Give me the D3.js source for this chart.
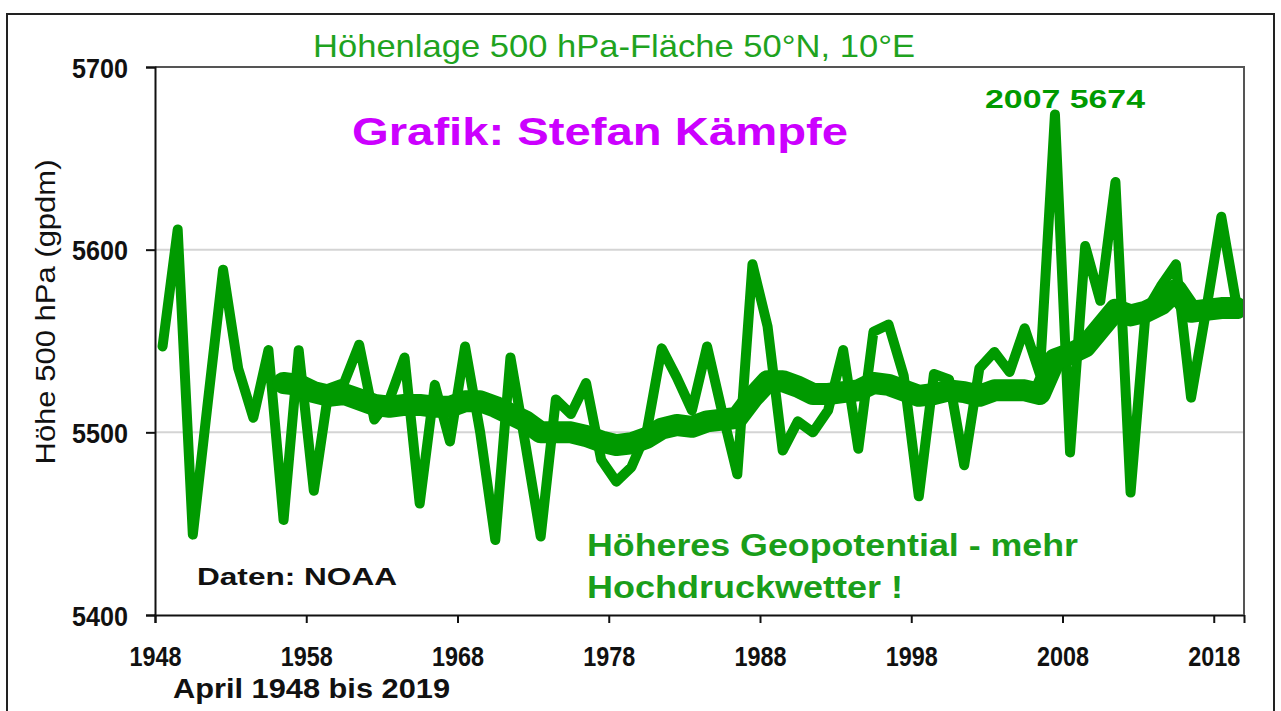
<!DOCTYPE html>
<html>
<head>
<meta charset="utf-8">
<script src="https://cdn.jsdelivr.net/npm/d3@7"></script>
<style>
  body { margin: 0; background: #fff; }
  text { font-family: "Liberation Sans", Arial, sans-serif; }
</style>
</head>
<body>
<div id="chart"></div>
<script>
const WIDTH = 1281, HEIGHT = 711;
const margin = {top: 67, right: 37, bottom: 96, left: 155};

// yearly values, April 1948 .. 2019
const years = d3.range(1948, 2020);
const heights = [
  5547, 5611, 5444, 5517, 5589, 5535, 5508, 5545, 5452, 5545,
  5468, 5524, 5527, 5548, 5507, 5518, 5541, 5461, 5526, 5495,
  5547, 5500, 5441, 5541, 5493, 5443, 5518, 5510, 5527, 5485,
  5473, 5481, 5500, 5546, 5530, 5512, 5547, 5511, 5477, 5592,
  5558, 5490, 5506, 5500, 5512, 5545, 5491, 5555, 5559, 5531,
  5465, 5532, 5529, 5482, 5535, 5544, 5533, 5557, 5532, 5674,
  5489, 5602, 5572, 5637, 5467, 5566, 5580, 5592, 5519, 5567,
  5618, 5570
];
// smoothed curve, from 1956
const smoothYears = d3.range(1956, 2020);
const smooth = [
  5527, 5526, 5522, 5520, 5521, 5518, 5515, 5514, 5515, 5515,
  5514, 5514, 5517, 5517, 5514, 5510, 5506, 5500, 5500, 5500,
  5498, 5495, 5493, 5494, 5497, 5502, 5504, 5503, 5506, 5507,
  5508, 5519, 5528, 5528, 5525, 5521, 5521, 5522, 5523, 5527,
  5526, 5523, 5520, 5521, 5523, 5522, 5520, 5523, 5523, 5523,
  5521, 5540, 5543, 5547, 5557, 5567, 5564, 5566, 5570, 5578,
  5566, 5567, 5568, 5568
];
const yTicks = [5400, 5500, 5600, 5700];
const xTicks = [1948, 1958, 1968, 1978, 1988, 1998, 2008, 2018];

const GREEN = "#009a00";
const w = WIDTH - margin.left - margin.right;
const h = HEIGHT - margin.top - margin.bottom;

const svg = d3.select("#chart").append("svg")
  .attr("width", WIDTH)
  .attr("height", HEIGHT);

// outer frame
svg.append("rect")
  .attr("x", 7).attr("y", 14)
  .attr("width", 1267).attr("height", 710)
  .attr("fill", "#fff")
  .attr("stroke", "#222")
  .attr("stroke-width", 2);

const x = d3.scaleLinear().domain([1948, 2020]).range([0, w]);
const y = d3.scaleLinear().domain([5400, 5700]).range([h, 0]);

const g = svg.append("g")
  .attr("transform", "translate(" + margin.left + "," + margin.top + ")");

// gridlines
g.selectAll("line.grid")
  .data([5500, 5600])
  .enter().append("line")
    .attr("class", "grid")
    .attr("x1", 0).attr("x2", w)
    .attr("y1", d => y(d)).attr("y2", d => y(d))
    .attr("stroke", "#d4d4d4")
    .attr("stroke-width", 2);

// plot border top/right
g.append("path")
  .attr("d", "M0,0H" + w + "V" + h)
  .attr("fill", "none")
  .attr("stroke", "#555")
  .attr("stroke-width", 2);

const line = d3.line()
  .x(d => x(d[0] + 0.5))
  .y(d => y(d[1]));

g.append("path")
  .datum(years.map((yr, i) => [yr, heights[i]]))
  .attr("d", line)
  .attr("fill", "none")
  .attr("stroke", GREEN)
  .attr("stroke-width", 10)
  .attr("stroke-linejoin", "round")
  .attr("stroke-linecap", "round");

g.append("path")
  .datum(smoothYears.map((yr, i) => [yr, smooth[i]]))
  .attr("d", line)
  .attr("fill", "none")
  .attr("stroke", GREEN)
  .attr("stroke-width", 22)
  .attr("stroke-linejoin", "round")
  .attr("stroke-linecap", "round");

// clip the round cap at the right edge
svg.append("rect")
  .attr("x", margin.left + w + 1).attr("y", margin.top)
  .attr("width", 20).attr("height", h)
  .attr("fill", "#fff");
svg.append("line")
  .attr("x1", margin.left + w).attr("x2", margin.left + w)
  .attr("y1", margin.top).attr("y2", margin.top + h)
  .attr("stroke", "#555").attr("stroke-width", 2);

// axes
const yAxis = g.append("g")
  .call(d3.axisLeft(y).tickValues(yTicks).tickSize(9).tickFormat(d3.format("d")));
const xAxis = g.append("g")
  .attr("transform", "translate(0," + h + ")")
  .call(d3.axisBottom(x).tickValues(xTicks).tickSize(8).tickFormat(d3.format("d")));

[yAxis, xAxis].forEach(a => {
  a.select(".domain").attr("stroke", "#111").attr("stroke-width", 2);
  a.selectAll(".tick line").attr("stroke", "#111").attr("stroke-width", 2);
  a.selectAll("text")
    .attr("fill", "#111")
    .attr("font-family", "'Liberation Sans', Arial, sans-serif")
    .attr("font-weight", "bold")
    .attr("font-size", "28px")
    .attr("lengthAdjust", "spacingAndGlyphs");
});
yAxis.selectAll("text")
  .attr("textLength", 56)
  .attr("x", -27).attr("dy", "0.36em");
xAxis.selectAll("text")
  .attr("textLength", 52)
  .attr("y", 51).attr("dy", null);

// texts
function label(txt, px, py, len, opts) {
  return svg.append("text")
    .text(txt)
    .attr("x", px).attr("y", py)
    .attr("fill", opts.fill || "#111")
    .attr("font-size", opts.size + "px")
    .attr("font-weight", opts.bold ? "bold" : "normal")
    .attr("textLength", len)
    .attr("lengthAdjust", "spacingAndGlyphs");
}

label("Höhenlage 500 hPa-Fläche 50°N, 10°E", 313, 57, 602, {fill: "#1fa31f", size: 32});
label("Grafik: Stefan Kämpfe", 352, 145, 496, {fill: "#cc00ff", size: 39, bold: true});
label("2007 5674", 985, 108, 160, {fill: GREEN, size: 26, bold: true});
label("Höheres Geopotential - mehr", 587, 556, 491, {fill: "#1a9e1a", size: 31, bold: true});
label("Hochdruckwetter !", 587, 598, 316, {fill: "#1a9e1a", size: 31, bold: true});
label("Daten: NOAA", 197, 585, 200, {fill: "#111", size: 24, bold: true});
label("April 1948 bis 2019", 173, 698, 277, {fill: "#111", size: 28, bold: true});

svg.append("text")
  .text("Höhe 500 hPa (gpdm)")
  .attr("transform", "translate(55,312) rotate(-90)")
  .attr("text-anchor", "middle")
  .attr("fill", "#111")
  .attr("font-size", "28px")
  .attr("textLength", 305)
  .attr("lengthAdjust", "spacingAndGlyphs");
</script>
</body>
</html>
